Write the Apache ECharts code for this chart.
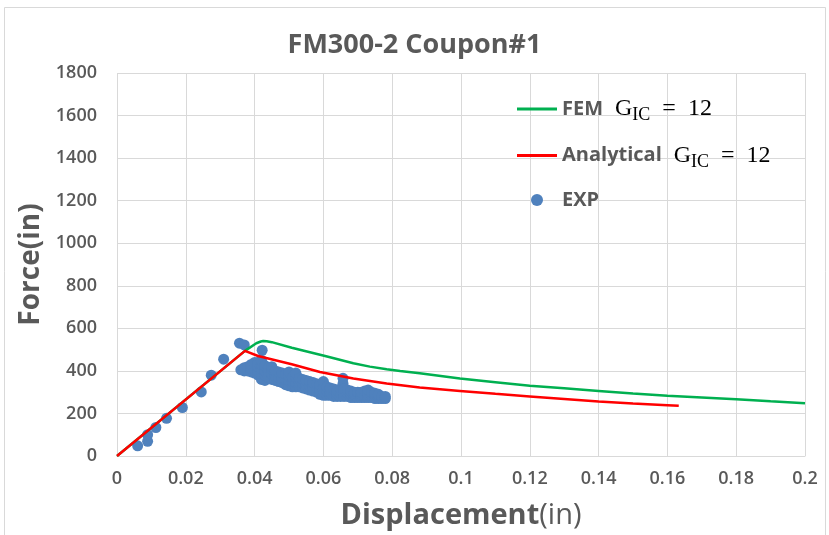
<!DOCTYPE html>
<html>
<head>
<meta charset="utf-8">
<script src="https://cdn.jsdelivr.net/npm/echarts@6/dist/echarts.min.js"></script>
<style>html,body{margin:0;padding:0;background:#fff}#c{width:829px;height:535px}</style>
</head>
<body>
<div id="c"></div>
<script>
// FEM (G_IC = 12): [displacement, force]
var femX = [0, 0.0372, 0.0405, 0.0418, 0.0425, 0.0435, 0.045, 0.0508, 0.0605, 0.0687, 0.0735, 0.0784, 0.0823, 0.088, 0.0997, 0.11, 0.12, 0.13, 0.14, 0.15, 0.16, 0.17, 0.18, 0.19, 0.2];
var femY = [0, 494, 530, 538, 540, 539, 535, 509, 470, 436, 420, 408, 400, 389, 364, 347, 330, 318, 306, 294, 283, 275, 267, 257, 248];
// Analytical (G_IC = 12)
var anaX = [0, 0.0372, 0.041, 0.0508, 0.059, 0.0687, 0.0784, 0.088, 0.0997, 0.11, 0.12, 0.13, 0.14, 0.15, 0.16, 0.1633];
var anaY = [0, 494, 470, 431, 395, 364, 341, 322, 306, 292, 280, 268, 256, 247, 239, 236];
// EXP scatter
var expX = [0.0060, 0.0089, 0.0089, 0.0113, 0.0144, 0.0190, 0.0245, 0.0274, 0.0310, 0.0356, 0.0370, 0.0422,
  0.036, 0.037, 0.037, 0.038, 0.038, 0.039, 0.039, 0.039,
  0.040, 0.040, 0.040, 0.040, 0.041, 0.041, 0.041, 0.041,
  0.042, 0.042, 0.042, 0.042, 0.042, 0.043, 0.043, 0.043, 0.043,
  0.044, 0.044, 0.044, 0.045, 0.045, 0.045, 0.045,
  0.046, 0.046, 0.046, 0.047, 0.047, 0.047, 0.048, 0.048, 0.048,
  0.049, 0.049, 0.049, 0.050, 0.050, 0.050, 0.050, 0.051, 0.051, 0.051,
  0.052, 0.052, 0.052, 0.052, 0.053, 0.053, 0.053, 0.054, 0.054, 0.054,
  0.055, 0.055, 0.055, 0.056, 0.056, 0.056, 0.057, 0.057, 0.057,
  0.058, 0.058, 0.058, 0.059, 0.059, 0.059, 0.060, 0.060, 0.060, 0.060,
  0.061, 0.061, 0.061, 0.062, 0.062, 0.062, 0.063, 0.063, 0.063,
  0.064, 0.064, 0.064, 0.065, 0.065, 0.065, 0.0657, 0.0657,
  0.066, 0.066, 0.066, 0.067, 0.067, 0.067, 0.068, 0.068, 0.068,
  0.069, 0.069, 0.069, 0.070, 0.070, 0.070, 0.071, 0.071, 0.071,
  0.072, 0.072, 0.072, 0.073, 0.073, 0.073, 0.074, 0.074, 0.074,
  0.075, 0.075, 0.075, 0.076, 0.076, 0.076, 0.077, 0.077, 0.078, 0.078];
var expY = [48, 69, 100, 134, 177, 228, 301, 380, 455, 530, 522, 497,
  405, 400, 415, 400, 420, 395, 410, 430,
  390, 405, 425, 440, 380, 400, 420, 440,
  360, 385, 410, 430, 450, 355, 380, 400, 425,
  370, 395, 415, 360, 385, 410, 420,
  355, 375, 400, 350, 370, 395, 345, 365, 390,
  335, 360, 385, 330, 355, 375, 395, 325, 350, 370,
  325, 345, 370, 390, 325, 345, 365, 320, 340, 360,
  315, 335, 355, 310, 330, 350, 305, 325, 345,
  300, 320, 340, 290, 310, 335, 285, 305, 330, 350,
  285, 305, 325, 285, 300, 320, 280, 300, 315,
  280, 295, 310, 280, 295, 315, 365, 340,
  280, 295, 315, 280, 295, 310, 275, 290, 305,
  275, 290, 300, 275, 290, 300, 275, 285, 300,
  275, 285, 305, 275, 290, 310, 275, 285, 300,
  270, 285, 295, 270, 280, 290, 270, 280, 270, 280];

function zip(a, b) { return a.map(function (v, i) { return [v, b[i]]; }); }

var gray = '#595959';
var chart = echarts.init(document.getElementById('c'));
var legendLabel = {
  'FEM': '{t|FEM}{m|  G}{s|IC}{m|  =  12}',
  'Analytical': '{t|Analytical}{m|  G}{s|IC}{m|  =  12}',
  'EXP': '{t|EXP}'
};
chart.setOption({
  animation: false,
  backgroundColor: '#fff',
  title: {
    text: 'FM300-2 Coupon#1', left: 'center', top: 27,
    textStyle: { fontFamily: 'Open Sans', fontWeight: 'bold', fontSize: 27, color: gray }
  },
  graphic: [{ type: 'rect', shape: { x: 4.5, y: 7.5, width: 821, height: 540 }, style: { fill: 'none', stroke: '#D9D9D9', lineWidth: 1 }, z: -1 }],
  grid: { left: 117, right: 24, top: 73, bottom: 78 },
  legend: {
    orient: 'vertical', left: 512, top: 92, itemGap: 19, itemWidth: 40, itemHeight: 12,
    data: [
      { name: 'FEM', icon: 'path://M0,0L40,0L40,3L0,3Z' },
      { name: 'Analytical', icon: 'path://M0,0L40,0L40,3L0,3Z' },
      { name: 'EXP', icon: 'circle' }
    ],
    formatter: function (n) { return legendLabel[n]; },
    textStyle: {
      rich: {
        t: { fontFamily: 'Open Sans', fontWeight: 'bold', fontSize: 20, color: gray },
        m: { fontFamily: 'Liberation Serif', fontSize: 24, color: '#000' },
        s: { fontFamily: 'Liberation Serif', fontSize: 18, color: '#000', padding: [13, 0, 0, 0] }
      }
    }
  },
  xAxis: {
    type: 'value', min: 0, max: 0.2, interval: 0.02,
    name: '{b|Displacement}{r|(in)}', nameLocation: 'middle', nameGap: 45,
    nameTextStyle: {
      rich: {
        b: { fontFamily: 'Open Sans', fontWeight: 'bold', fontSize: 29, color: gray },
        r: { fontFamily: 'Open Sans', fontWeight: 'normal', fontSize: 29, color: gray }
      }
    },
    axisLine: { lineStyle: { color: '#D9D9D9' } },
    axisTick: { show: false },
    splitLine: { show: true, lineStyle: { color: '#D9D9D9' } },
    axisLabel: {
      margin: 14, color: gray, fontFamily: 'Open Sans', fontWeight: 600, fontSize: 18,
      formatter: function (v) { return String(+v.toFixed(2)); }
    }
  },
  yAxis: {
    type: 'value', min: 0, max: 1800, interval: 200,
    name: 'Force(in)', nameLocation: 'middle', nameGap: 64,
    nameTextStyle: { fontFamily: 'Open Sans', fontWeight: 'bold', fontSize: 28, color: gray },
    axisLine: { show: false },
    axisTick: { show: false },
    splitLine: { lineStyle: { color: '#D9D9D9' } },
    axisLabel: {
      margin: 20, color: gray, fontFamily: 'Open Sans', fontWeight: 600, fontSize: 18,
      formatter: function (v) { return String(v); }
    }
  },
  series: [
    { name: 'FEM', type: 'line', data: zip(femX, femY), symbol: 'none', lineStyle: { color: '#00B050', width: 2.5 }, itemStyle: { color: '#00B050' }, z: 3 },
    { name: 'Analytical', type: 'line', data: zip(anaX, anaY), symbol: 'none', lineStyle: { color: '#FF0000', width: 2.5 }, itemStyle: { color: '#FF0000' }, z: 4 },
    { name: 'EXP', type: 'scatter', data: zip(expX, expY), symbolSize: 11, itemStyle: { color: '#4F81BD', opacity: 1 }, z: 2 }
  ]
});
</script>
</body>
</html>
